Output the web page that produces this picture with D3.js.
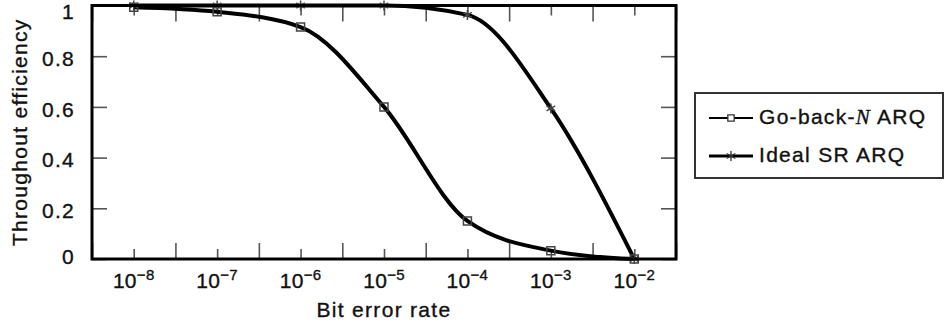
<!DOCTYPE html>
<html>
<head>
<meta charset="utf-8">
<script src="https://cdn.jsdelivr.net/npm/d3@7"></script>
<style>
  body { margin: 0; background: #fff; }
  text { font-family: "Liberation Sans", Arial, sans-serif; fill: #111; stroke: #111; stroke-width: 0.35px; letter-spacing: 1.3px; }
</style>
</head>
<body>
<div id="chart-area"></div>
<script>
// bit error rate exponents (10^e) where the curves were sampled
var exponents = [-8, -7, -6, -5, -4, -3, -2];
var gbnValues = [0.993, 0.975, 0.915, 0.60, 0.15, 0.033, 0];
var srValues  = [1, 1, 1, 1, 0.963, 0.594, 0];
var yTicks = [0, 0.2, 0.4, 0.6, 0.8, 1];
var halfDecades = [-8.5, -7.5, -6.5, -5.5, -4.5, -3.5, -2.5, -1.5];
var seriesNames = ["Go-back-", "Ideal SR ARQ"];

var margin = {top: 5.5, right: 269, bottom: 70, left: 92};
var width = 945 - margin.left - margin.right;
var height = 329 - margin.top - margin.bottom;

var svg = d3.select("#chart-area")
    .append("svg")
    .attr("width", 945)
    .attr("height", 329);

var g = svg.append("g")
    .attr("transform", "translate(" + margin.left + "," + margin.top + ")");

var x = d3.scaleLog()
    .domain([Math.pow(10, -8.5), Math.pow(10, -1.5)])
    .range([0, width]);

var y = d3.scaleLinear()
    .domain([0, 1])
    .range([height, 0]);

var decades = exponents.map(function(e){ return Math.pow(10, e); });
var halves = halfDecades.map(function(e){ return Math.pow(10, e); });

function styleTicks(sel) {
  sel.select(".domain").remove();
  sel.selectAll(".tick line").attr("stroke", "#555").attr("stroke-width", 1.6);
}

//bottom ticks, decade ones are short
g.append("g")
  .attr("transform", "translate(0," + height + ")")
  .call(d3.axisBottom(x).tickValues(decades).tickSize(-10).tickFormat(""))
  .call(styleTicks);
g.append("g")
  .attr("transform", "translate(0," + height + ")")
  .call(d3.axisBottom(x).tickValues(halves).tickSize(-16).tickFormat(""))
  .call(styleTicks);
//top ticks
g.append("g")
  .call(d3.axisTop(x).tickValues(decades).tickSize(-10).tickFormat(""))
  .call(styleTicks);
g.append("g")
  .call(d3.axisTop(x).tickValues(halves).tickSize(-16).tickFormat(""))
  .call(styleTicks);

//y ticks left + labels
var yAxis = d3.axisLeft(y)
  .tickValues(yTicks)
  .tickSize(-15)
  .tickPadding(17)
  .tickFormat(function(d){ return (d === 0 || d === 1) ? d : d.toFixed(1); });

g.append("g")
  .call(yAxis)
  .call(styleTicks)
  .selectAll("text")
  .attr("font-size", "21px")
  .attr("font-family", "Liberation Sans")
  .attr("fill", "#111")
  .attr("dy", function(d){ return d === 1 ? "0.62em" : d === 0 ? "0.2em" : "0.44em"; });

//y ticks right
g.append("g")
  .attr("transform", "translate(" + width + ",0)")
  .call(d3.axisRight(y).tickValues(yTicks).tickSize(-15).tickFormat(""))
  .call(styleTicks);

//x tick labels 10^n
var xl = g.append("g").selectAll("text")
  .data(exponents)
  .enter().append("text")
  .attr("x", function(d){ return x(Math.pow(10, d)); })
  .attr("y", height + 29)
  .attr("text-anchor", "middle")
  .attr("font-size", "21px")
  .style("letter-spacing", "0.3px");
xl.append("tspan").text("10");
xl.append("tspan")
  .attr("dy", -8)
  .attr("font-size", "15px")
  .text(function(d){ return "\u2212" + (-d); });

//axis titles
g.append("text")
  .attr("x", width / 2)
  .attr("y", height + 58)
  .attr("text-anchor", "middle")
  .attr("font-size", "21px")
  .text("Bit error rate");

g.append("text")
  .attr("transform", "translate(" + (27 - margin.left) + "," + (height / 2) + ") rotate(-90)")
  .attr("text-anchor", "middle")
  .attr("font-size", "21px")
  .text("Throughout efficiency");

//curves
var gbn = exponents.map(function(e, i){ return {x: Math.pow(10, e), y: gbnValues[i]}; });
var sr = exponents.map(function(e, i){ return {x: Math.pow(10, e), y: srValues[i]}; });

var line = d3.line()
  .x(function(d){ return x(d.x); })
  .y(function(d){ return y(d.y); })
  .curve(d3.curveMonotoneX);

[gbn, sr].forEach(function(s){
  g.append("path")
    .datum(s)
    .attr("d", line)
    .attr("fill", "none")
    .attr("stroke", "#000")
    .attr("stroke-width", 4);
});

var square = d3.symbol().type(d3.symbolSquare).size(64);
var star = d3.symbol().type(d3.symbolAsterisk || d3.symbolCross).size(70);

g.selectAll(".gbn-mark")
  .data(gbn)
  .enter().append("path")
  .attr("class", "gbn-mark")
  .attr("transform", function(d){ return "translate(" + x(d.x) + "," + y(d.y) + ")"; })
  .attr("d", square)
  .attr("fill", "none")
  .attr("stroke", "#444")
  .attr("stroke-width", 1.5);

g.selectAll(".sr-mark")
  .data(sr)
  .enter().append("path")
  .attr("class", "sr-mark")
  .attr("transform", function(d){ return "translate(" + x(d.x) + "," + y(d.y) + ")"; })
  .attr("d", star)
  .attr("fill", "none")
  .attr("stroke", "#444")
  .attr("stroke-width", 1.5);

//frame
g.append("rect")
  .attr("width", width)
  .attr("height", height)
  .attr("fill", "none")
  .attr("stroke", "#000")
  .attr("stroke-width", 3);

//legend
var legend = svg.append("g").attr("transform", "translate(695,93)");
legend.append("rect")
  .attr("width", 248)
  .attr("height", 85)
  .attr("fill", "#fff")
  .attr("stroke", "#333")
  .attr("stroke-width", 2);

var rows = legend.selectAll(".row")
  .data(seriesNames)
  .enter().append("g")
  .attr("class", "row")
  .attr("transform", function(d, i){ return "translate(0," + (25 + i * 38) + ")"; });

rows.append("line")
  .attr("x1", 14).attr("x2", 58)
  .attr("stroke", "#000")
  .attr("stroke-width", function(d, i){ return i === 0 ? 2 : 3; });

rows.append("path")
  .attr("transform", "translate(36,0)")
  .attr("d", function(d, i){ return i === 0 ? d3.symbol().type(d3.symbolSquare).size(40)() : star(); })
  .attr("fill", function(d, i){ return i === 0 ? "#fff" : "none"; })
  .attr("stroke", "#333")
  .attr("stroke-width", 1.3);

var lt = rows.append("text")
  .attr("x", 64)
  .attr("y", 6)
  .attr("font-size", "21px");
lt.append("tspan").text(function(d){ return d; });
lt.filter(function(d, i){ return i === 0; }).append("tspan")
  .attr("font-family", "Liberation Serif")
  .attr("font-style", "italic")
  .text("N");
lt.filter(function(d, i){ return i === 0; }).append("tspan")
  .text(" ARQ");
</script>
</body>
</html>
